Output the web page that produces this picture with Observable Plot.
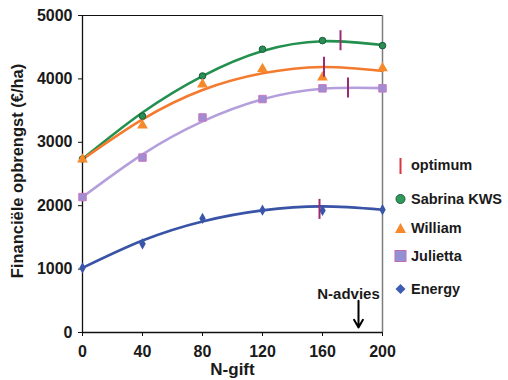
<!DOCTYPE html>
<html><head><meta charset="utf-8">
<script src="https://cdn.jsdelivr.net/npm/d3@7"></script>
<script src="https://cdn.jsdelivr.net/npm/@observablehq/plot@0.6"></script>
<style>
body{margin:0;background:#fff;font-family:"Liberation Sans",Arial,Helvetica,sans-serif;}
#wrap{position:relative;width:508px;height:380px;overflow:hidden;}
#wrap svg{font-family:"Liberation Sans",Arial,Helvetica,sans-serif;}
g[aria-label="y-axis tick label"] text{font-size:16px;font-weight:bold;fill:#1a1a1a;}
g[aria-label="x-axis tick label"] text{font-size:16px;font-weight:bold;fill:#1a1a1a;}
</style></head><body><div id="wrap"></div>
<script>
// ---- data ----
const nGift = [0, 40, 80, 120, 160, 200];
const seriesNames = ["Sabrina KWS", "William", "Julietta", "Energy"];
const sabrina  = [2737, 3413, 4046, 4468, 4604, 4525];
const william  = [2730, 3266, 3915, 4157, 4025, 4168];
const julietta = [2136, 2759, 3392, 3682, 3851, 3851];
const energy   = [1019, 1399, 1799, 1930, 1926, 1937];
// trend curves at the same N levels
const sabrinaTrend  = [2737, 3470, 4045, 4440, 4595, 4535];
const williamTrend  = [2730, 3361, 3824, 4088, 4188, 4125];
const juliettaTrend = [2136, 2810, 3330, 3680, 3845, 3855];
const energyTrend   = [1019, 1451, 1752, 1926, 1989, 1937];
// optimum markers
const optimumN     = [172, 161, 177, 158];
const optimumValue = [4610, 4190, 3864, 1950];
// N-advies annotation
const nAdviesLabel = "N-advies";
const nAdviesN = 184;
const nAdviesArrowFrom = 500;
const nAdviesArrowTo = 80;
const nAdviesLabelValue = 612;
// axes
const yTicks = [0, 1000, 2000, 3000, 4000, 5000];
const xTicks = [0, 40, 80, 120, 160, 200];
const yLabel = "Financiële opbrengst (€/ha)";
const xLabel = "N-gift";
const optimumLabel = "optimum";

// ---- styles ----
const lineColors = ["#23904f", "#f37a2e", "#b49fdc", "#3953a6"];
const dotStyles = [
  {symbol: "circle",   r: 3.3, fill: "#2b8c55", stroke: "#175c36", strokeWidth: 1},
  {symbol: "triangle", r: 4.0, fill: "#f68a2a", stroke: "none"},
  {symbol: "square",   r: 4.2, fill: "#a08cd0", stroke: "#c878c4", strokeWidth: 1},
  {symbol: "diamond",  r: 3.4, fill: "#3a56aa", stroke: "none"}
];

const values = [sabrina, william, julietta, energy];
const trends = [sabrinaTrend, williamTrend, juliettaTrend, energyTrend];
const rows = [];
seriesNames.forEach((s, i) => nGift.forEach((n, j) => rows.push({series: s, n, value: values[i][j], trend: trends[i][j]})));
const optRows = seriesNames.map((s, i) => ({series: s, n: optimumN[i], value: optimumValue[i]}));

const vbar = {draw(context) { context.moveTo(0, -10); context.lineTo(0, 10); }};

const chart = Plot.plot({
  width: 508, height: 380,
  marginLeft: 82, marginRight: 126, marginTop: 15, marginBottom: 48,
  style: {background: "transparent", fontFamily: "Liberation Sans, Arial, sans-serif"},
  x: {domain: [0, 200]},
  y: {domain: [0, 5000]},
  color: {domain: seriesNames, range: lineColors},
  marks: [
    Plot.ruleY([5000], {stroke: "#111", strokeWidth: 1}),
    Plot.ruleX([200], {stroke: "#7c7c7c", strokeWidth: 1.5}),
    Plot.axisY({ticks: yTicks, tickSize: 4, tickPadding: 6, tickFormat: d => String(d), label: null, stroke: "#111"}),
    Plot.axisX({ticks: xTicks, tickSize: 4, tickPadding: 9, tickFormat: d => String(d), label: null, stroke: "#111"}),
    Plot.ruleX([0], {stroke: "#111", strokeWidth: 1.3}),
    Plot.ruleY([0], {stroke: "#111", strokeWidth: 1.3}),
    Plot.line(rows, {x: "n", y: "trend", z: "series", stroke: "series", strokeWidth: 2.6, curve: "natural"}),
    ...seriesNames.map((s, i) => Plot.dot(rows.filter(d => d.series === s), {x: "n", y: "value", ...dotStyles[i]})),
    Plot.dot(optRows, {x: "n", y: "value", symbol: vbar, r: 10, fill: "none", stroke: "#9b2a72", strokeWidth: 2}),
    Plot.arrow([{n: nAdviesN}], {x: "n", y1: () => nAdviesArrowFrom, y2: () => nAdviesArrowTo, stroke: "#000", strokeWidth: 2, headLength: 7}),
    Plot.text([{n: nAdviesN}], {x: "n", y: () => nAdviesLabelValue, text: () => nAdviesLabel, dx: -10, fontSize: 15, fontWeight: "bold", fill: "#1a1a1a"}),
    Plot.text([xLabel], {text: d => d, frameAnchor: "bottom", lineAnchor: "middle", dy: 37.5, fontSize: 17, fontWeight: "bold", fill: "#1a1a1a"}),
    Plot.text([yLabel], {text: d => d, frameAnchor: "left", textAnchor: "middle", lineAnchor: "middle", rotate: -90, dx: -65, dy: -3, fontSize: 16.5, fontWeight: "bold", fill: "#1a1a1a"})
  ]
});
document.getElementById("wrap").append(chart);

// ---- legend ----
const leg = d3.select("#wrap").append("svg")
  .attr("width", 508).attr("height", 380)
  .style("position", "absolute").style("left", 0).style("top", 0)
  .style("font-family", "Liberation Sans, Arial, sans-serif");
const lx = 400.5, tx = 411;
const legendY = [166, 199, 228, 256, 289];
leg.append("line").attr("x1", lx).attr("x2", lx).attr("y1", 158).attr("y2", 174).attr("stroke", "#d8353c").attr("stroke-width", 2);
leg.append("circle").attr("cx", lx).attr("cy", legendY[1]).attr("r", 4.5).attr("fill", "#2f9a5c").attr("stroke", "#1d5e3b").attr("stroke-width", 1);
leg.append("path").attr("d", `M${lx - 5.5},${legendY[2] + 5}L${lx + 5.5},${legendY[2] + 5}L${lx},${legendY[2] - 5}Z`).attr("fill", "#f6882a");
leg.append("rect").attr("x", lx - 5.5).attr("y", legendY[3] - 5.5).attr("width", 11).attr("height", 11).attr("fill", "#9191d3").attr("stroke", "#c26db3").attr("stroke-width", 1);
leg.append("path").attr("d", `M${lx},${legendY[4] - 5}L${lx + 5},${legendY[4]}L${lx},${legendY[4] + 5}L${lx - 5},${legendY[4]}Z`).attr("fill", "#3d5cb2");
const legendTexts = [optimumLabel, ...seriesNames];
const baseOff = [4, 5.2, 5.2, 5.2, 5.2];
leg.selectAll("text.lt").data(legendTexts).join("text")
  .attr("class", "lt")
  .attr("x", tx).attr("y", (d, i) => legendY[i] + baseOff[i])
  .attr("font-size", 14.5).attr("font-weight", "bold").attr("fill", "#1a1a1a")
  .text(d => d);
</script>
</body></html>
